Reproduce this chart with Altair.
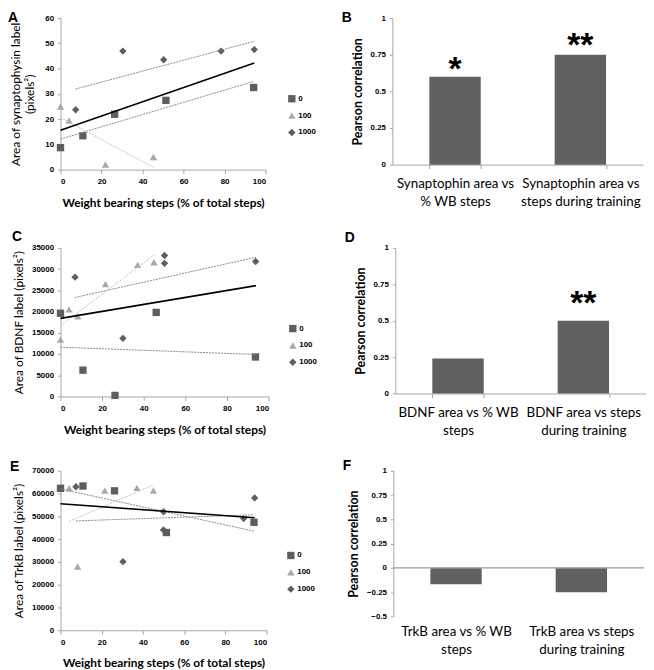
import altair as alt
import pandas as pd

SERIES = ["0", "100", "1000"]

# ---------- Panel A (synaptophysin) ----------
A_s0_x = [0, 10.9, 26.4, 51.4, 94.2]
A_s0_y = [8.7, 13.4, 21.9, 27.4, 32.5]
A_s100_x = [0, 4.2, 21.9, 45.3]
A_s100_y = [25, 19.4, 2, 5]
A_s1000_x = [7.4, 30.4, 50.3, 78.3, 94.5]
A_s1000_y = [23.7, 46.9, 43.5, 46.9, 47.5]
A_fit_x, A_fit_y = [0, 94.5], [15.6, 42.2]
A_t0_x, A_t0_y = [0, 94.2], [12.1, 34.9]
A_t100_x, A_t100_y = [0, 45.3], [20.6, 0.9]
A_t1000_x, A_t1000_y = [7.4, 94.5], [31.9, 50.8]

# ---------- Panel C (BDNF) ----------
C_s0_x = [0, 10.8, 26.2, 46, 93.7]
C_s0_y = [19600, 6200, 250, 19800, 9300]
C_s100_x = [0, 4.1, 8.3, 21.6, 37.1, 44.9]
C_s100_y = [13400, 20500, 18900, 26500, 31000, 31600]
C_s1000_x = [7, 30, 50, 50, 93.8]
C_s1000_y = [28100, 13700, 33200, 31350, 31800]
C_fit_x, C_fit_y = [0, 94], [18400, 26100]
C_t0_x, C_t0_y = [0, 93.7], [11600, 9900]
C_t100_x, C_t100_y = [0, 45.2], [16700, 33400]
C_t1000_x, C_t1000_y = [6.8, 94], [23300, 32800]

# ---------- Panel E (TrkB) ----------
E_s0_x = [0, 10.9, 26.2, 51.4, 93.9]
E_s0_y = [62300, 63300, 61200, 42900, 47400]
E_s100_x = [4.2, 8.3, 21.5, 37.1, 45.1]
E_s100_y = [62300, 28000, 61300, 62500, 61300]
E_s1000_x = [7.5, 30.3, 50, 50, 88.9, 94.2]
E_s1000_y = [63000, 30100, 52000, 44000, 49000, 58100]
E_fit_x, E_fit_y = [0, 94.2], [55500, 49400]
E_t0_x, E_t0_y = [0, 93.9], [62000, 43500]
E_t100_x, E_t100_y = [4.2, 45.1], [47800, 63800]
E_t1000_x, E_t1000_y = [7.5, 94.2], [48000, 50700]

# ---------- Bar panels ----------
B_cats = ["Synaptophin area vs|% WB steps", "Synaptophin area vs|steps during training"]
B_vals = [0.60, 0.75]
B_stars = ["*", "**"]
B_star_y = [0.676, 0.845]

D_cats = ["BDNF area vs % WB|steps", "BDNF area vs steps|during training"]
D_vals = [0.24, 0.50]
D_stars = ["", "**"]
D_star_y = [0.0, 0.646]

F_cats = ["TrkB area vs % WB|steps", "TrkB area vs steps|during training"]
F_vals = [-0.17, -0.25]
F_stars = ["", ""]
F_star_y = [0.0, 0.0]

XTITLE = "Weight bearing steps (% of total steps)"
TICK_FONT = "Liberation Sans"
TITLE_FONT = "Lato"
AXIS_GRAY = "#a6a6a6"


def scatter_panel(s0, s100, s1000, fit, t0, t100, t1000, ydomain, ystep, ytitle,
                  w, h, letter, letter_x, letter_y, leg_x, leg_y, ytitle_pad):
    rows = []
    for name, (xs, ys) in zip(SERIES, [s0, s100, s1000]):
        for xv, yv in zip(xs, ys):
            rows.append({"x": xv, "y": yv, "series": name})
    pts = pd.DataFrame(rows)
    trows = []
    for tid, (xs, ys) in zip(["fit", "0", "100", "1000"], [fit, t0, t100, t1000]):
        for xv, yv in zip(xs, ys):
            trows.append({"x": xv, "y": yv, "id": tid})
    tr = pd.DataFrame(trows)

    xaxis = alt.Axis(values=[0, 20, 40, 60, 80, 100], title=XTITLE,
                     grid=False, domainColor=AXIS_GRAY, tickColor=AXIS_GRAY,
                     tickSize=4, labelFont=TICK_FONT, labelFontSize=8,
                     labelFontWeight="bold", labelColor="#000",
                     labelOverlap=False, format="d",
                     titleFont=TITLE_FONT, titleFontSize=12,
                     titleFontWeight="bold", titleColor="#000",
                     titlePadding=12, labelPadding=4)
    yvals = list(range(0, ydomain + 1, ystep))
    yaxis = alt.Axis(values=yvals, title=ytitle, grid=False,
                     domainColor=AXIS_GRAY, tickColor=AXIS_GRAY, tickSize=3,
                     labelFont=TICK_FONT, labelFontSize=8,
                     labelFontWeight="bold", labelColor="#000",
                     labelOverlap=False, format="d",
                     titleFont=TITLE_FONT, titleFontSize=12,
                     titleFontWeight="normal", titleColor="#000",
                     titleLineHeight=14,
                     titlePadding=ytitle_pad, labelPadding=4)
    xenc = alt.X("x:Q", scale=alt.Scale(domain=[0, 100], nice=False), axis=xaxis)
    yenc = alt.Y("y:Q", scale=alt.Scale(domain=[0, ydomain], nice=False), axis=yaxis)

    leg = alt.Legend(title=None, orient="none", legendX=leg_x, legendY=leg_y,
                     labelFont=TICK_FONT, labelFontSize=8, labelFontWeight="bold",
                     labelColor="#000", rowPadding=8, labelOffset=2, symbolSize=55)
    points = alt.Chart(pts).mark_point(filled=True, opacity=1, strokeWidth=0,
                                       size=55).encode(
        x=xenc, y=yenc,
        shape=alt.Shape("series:N", scale=alt.Scale(domain=SERIES,
                        range=["square", "triangle-up", "diamond"]), legend=leg),
        color=alt.Color("series:N", scale=alt.Scale(domain=SERIES,
                        range=["#5e5e5e", "#a8a8a8", "#5e5e5e"]), legend=leg),
    )
    fit_line = alt.Chart(tr).transform_filter(alt.datum.id == "fit").mark_line(
        color="#000", strokeWidth=1.6).encode(x=xenc, y=yenc)
    dotted = []
    for tid, col in zip(SERIES, ["#8a8a8a", "#c4c4c4", "#8a8a8a"]):
        dotted.append(alt.Chart(tr).transform_filter(alt.datum.id == tid).mark_line(
            color=col, strokeWidth=1, strokeDash=[2, 1]).encode(x=xenc, y=yenc))
    lab = alt.Chart(pd.DataFrame({"t": [letter]})).mark_text(
        font="Liberation Sans", fontSize=14, fontWeight="bold", align="left",
        baseline="top", color="#000").encode(
        text="t:N", x=alt.value(letter_x), y=alt.value(letter_y))
    return alt.layer(points, *dotted, fit_line, lab).properties(width=w, height=h)


def bar_panel(cats, vals, stars, star_y, ydomain, yvals, h, letter, letter_x, letter_y,
              zero_rule):
    df = pd.DataFrame({"cat": cats, "value": vals, "star": stars, "star_y": star_y})
    xaxis = alt.Axis(title=None, labelAngle=0,
                     labelExpr="split(datum.label, '|')",
                     labelFont=TITLE_FONT, labelFontSize=13.5,
                     labelColor="#000", labelLineHeight=18,
                     labelPadding=8, tickBand="extent",
                     domain=not zero_rule, ticks=not zero_rule,
                     domainColor=AXIS_GRAY, tickColor=AXIS_GRAY, tickSize=4)
    xscale = alt.Scale(paddingInner=0.59, paddingOuter=0.295)
    yaxis = alt.Axis(values=yvals, format=".2~f", title="Pearson correlation",
                     grid=False, domainColor=AXIS_GRAY, tickColor=AXIS_GRAY,
                     tickSize=3, labelFont=TICK_FONT, labelFontSize=8,
                     labelFontWeight="bold", labelColor="#000",
                     labelOverlap=False,
                     titleFont=TITLE_FONT, titleFontSize=12.5,
                     titleFontWeight="bold", titleColor="#000",
                     titlePadding=6, labelPadding=4)
    yscale = alt.Scale(domain=ydomain, nice=False)
    bars = alt.Chart(df).mark_bar(color="#616161").encode(
        x=alt.X("cat:N", sort=None, scale=xscale, axis=xaxis),
        y=alt.Y("value:Q", scale=yscale, axis=yaxis))
    st = alt.Chart(df).mark_text(font="Liberation Sans", fontSize=34, fontWeight="bold",
                                 baseline="middle", dy=5, color="#000").encode(
        x=alt.X("cat:N", sort=None, scale=xscale, axis=xaxis),
        y=alt.Y("star_y:Q", scale=yscale, axis=yaxis), text="star:N")
    lab = alt.Chart(pd.DataFrame({"t": [letter]})).mark_text(
        font="Liberation Sans", fontSize=14, fontWeight="bold", align="left",
        baseline="top", color="#000").encode(
        text="t:N", x=alt.value(letter_x), y=alt.value(letter_y))
    layers = [bars, st, lab]
    if zero_rule:
        layers.append(alt.Chart(df).transform_calculate(zero="0").mark_rule(
            color=AXIS_GRAY, strokeWidth=1).encode(
            y=alt.Y("zero:Q", scale=yscale, axis=yaxis)))
    return alt.layer(*layers).properties(width=253, height=h)


A = scatter_panel((A_s0_x, A_s0_y), (A_s100_x, A_s100_y), (A_s1000_x, A_s1000_y),
                  (A_fit_x, A_fit_y), (A_t0_x, A_t0_y), (A_t100_x, A_t100_y),
                  (A_t1000_x, A_t1000_y), 60, 10,
                  ["Area of synaptophysin label", "(pixels²)"],
                  207, 153, "A", -53, -7, 229, 77, 8)
C = scatter_panel((C_s0_x, C_s0_y), (C_s100_x, C_s100_y), (C_s1000_x, C_s1000_y),
                  (C_fit_x, C_fit_y), (C_t0_x, C_t0_y), (C_t100_x, C_t100_y),
                  (C_t1000_x, C_t1000_y), 35000, 5000,
                  "Area of BDNF label (pixels²)",
                  210, 150, "C", -49, -18, 230, 77, 6)
E = scatter_panel((E_s0_x, E_s0_y), (E_s100_x, E_s100_y), (E_s1000_x, E_s1000_y),
                  (E_fit_x, E_fit_y), (E_t0_x, E_t0_y), (E_t100_x, E_t100_y),
                  (E_t1000_x, E_t1000_y), 70000, 10000,
                  "Area of TrkB label (pixels²)",
                  208, 161, "E", -51, -11, 228, 81, 6)

B = bar_panel(B_cats, B_vals, B_stars, B_star_y, [0, 1], [0, 0.25, 0.5, 0.75, 1],
              148, "B", -51, -7, False)
D = bar_panel(D_cats, D_vals, D_stars, D_star_y, [0, 1], [0, 0.25, 0.5, 0.75, 1],
              147, "D", -51, -17, False)
F = bar_panel(F_cats, F_vals, F_stars, F_star_y, [-0.5, 1],
              [-0.5, -0.25, 0, 0.25, 0.5, 0.75, 1], 147, "F", -51, -12, True)

chart = alt.vconcat(
    alt.hconcat(A, B, spacing=76),
    alt.hconcat(C, D, spacing=76),
    alt.hconcat(E, F, spacing=76),
    spacing=22,
).resolve_scale(color="independent", shape="independent").resolve_legend(
    color="independent", shape="independent").properties(padding=0).configure_view(
    stroke=None).configure_axis(labelOverlap=False)

chart.save("out.html", embed_options={"renderer": "svg", "actions": False})
